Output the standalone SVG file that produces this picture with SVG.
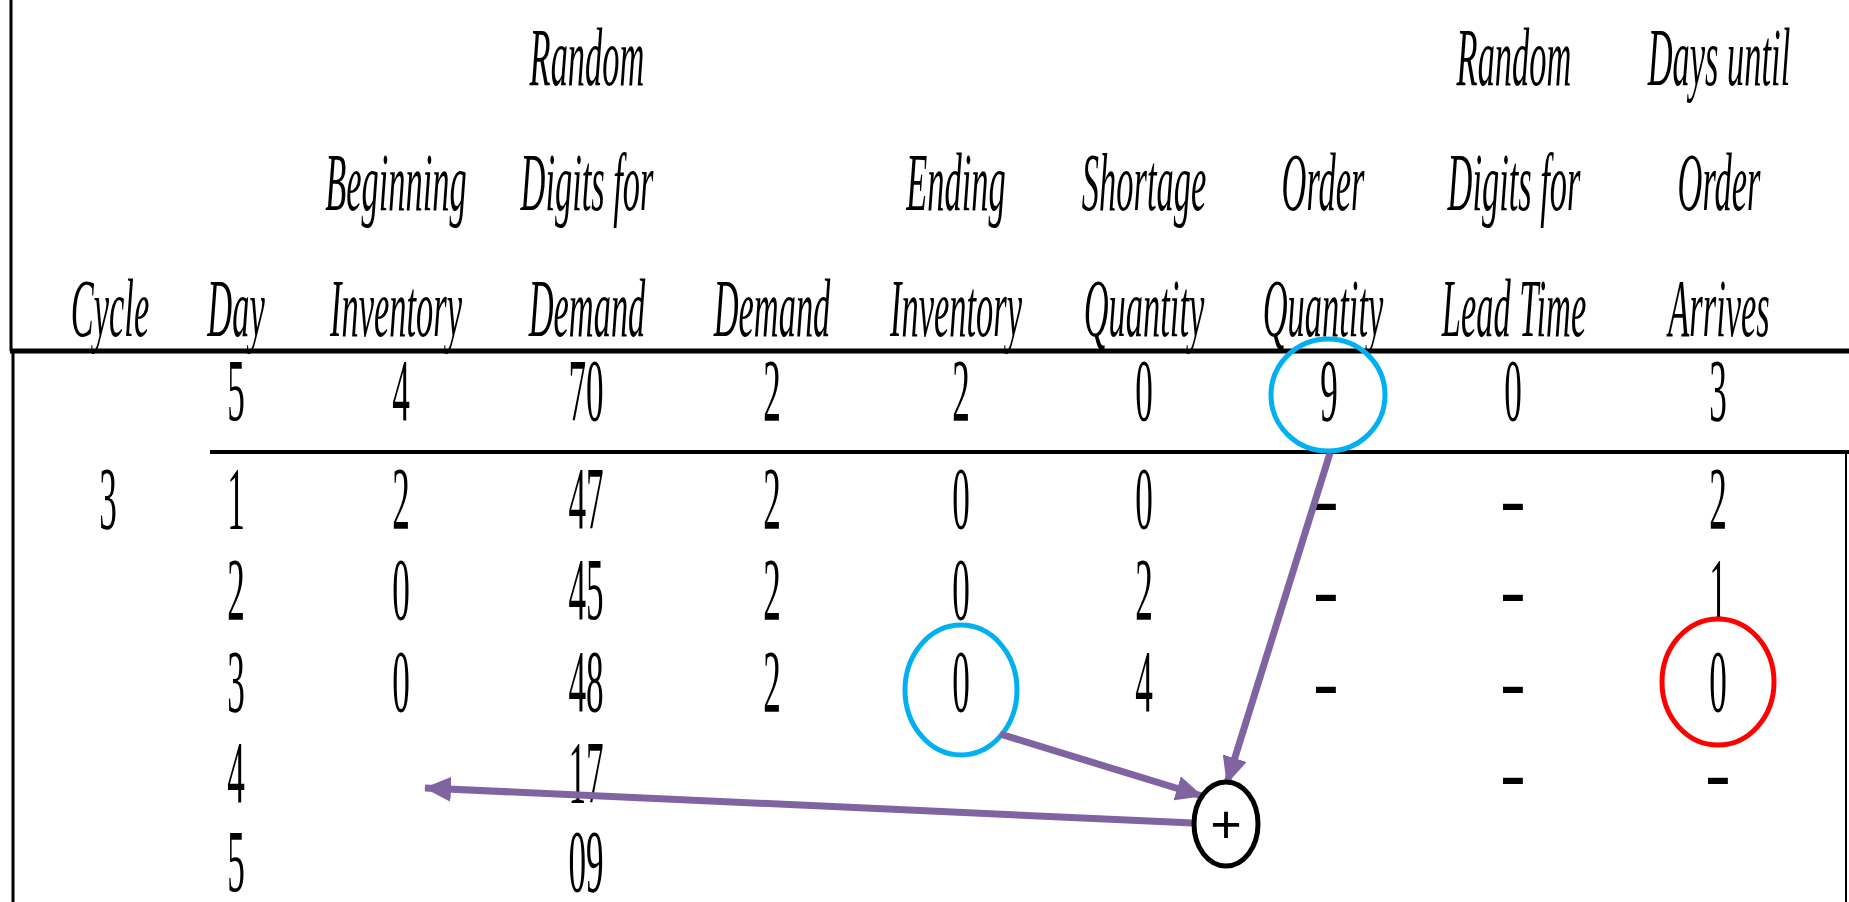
<svg xmlns="http://www.w3.org/2000/svg" width="1849" height="902" viewBox="0 0 1849 902">
<style>
.h{font-family:"Liberation Serif",serif;font-style:italic;font-size:82px;text-anchor:middle;fill:#000}
.d{font-family:"Liberation Serif",serif;font-size:88px;text-anchor:middle;fill:#000}
.rule{stroke:#000;fill:none}
.ring{fill:none;stroke-width:5}
.conn{stroke:#8064A2;stroke-width:7;fill:none;marker-end:url(#ah)}
</style>
<defs>
<marker id="ah" markerUnits="userSpaceOnUse" markerWidth="27" markerHeight="25" refX="26" refY="12.5" orient="auto">
<path d="M0,0 L27,12.5 L0,25 Z" fill="#8064A2"/>
</marker>
</defs>
<rect width="1849" height="902" fill="#fff"/>
<g id="rules">
<line class="rule" x1="11" y1="0" x2="11" y2="351" stroke-width="3"/>
<line class="rule" x1="13" y1="351" x2="13" y2="902" stroke-width="3"/>
<line class="rule" x1="10" y1="351" x2="1849" y2="351" stroke-width="5"/>
<line class="rule" x1="210" y1="452" x2="1849" y2="452" stroke-width="4"/>
<line class="rule" x1="1846" y1="452" x2="1846" y2="902" stroke-width="2"/>
</g>
<g id="header">
<text class="h" transform="translate(587 85) scale(0.42 1)">Random</text>
<text class="h" transform="translate(1514 85) scale(0.42 1)">Random</text>
<text class="h" transform="translate(1719 85) scale(0.42 1)">Days until</text>
<text class="h" transform="translate(396 210) scale(0.42 1)">Beginning</text>
<text class="h" transform="translate(587 210) scale(0.42 1)">Digits for</text>
<text class="h" transform="translate(956 210) scale(0.42 1)">Ending</text>
<text class="h" transform="translate(1144 210) scale(0.42 1)">Shortage</text>
<text class="h" transform="translate(1323 210) scale(0.42 1)">Order</text>
<text class="h" transform="translate(1514 210) scale(0.42 1)">Digits for</text>
<text class="h" transform="translate(1719 210) scale(0.42 1)">Order</text>
<text class="h" transform="translate(110 336) scale(0.42 1)">Cycle</text>
<text class="h" transform="translate(236 336) scale(0.42 1)">Day</text>
<text class="h" transform="translate(396 336) scale(0.42 1)">Inventory</text>
<text class="h" transform="translate(587 336) scale(0.42 1)">Demand</text>
<text class="h" transform="translate(772 336) scale(0.42 1)">Demand</text>
<text class="h" transform="translate(956 336) scale(0.42 1)">Inventory</text>
<text class="h" transform="translate(1144 336) scale(0.42 1)">Quantity</text>
<text class="h" transform="translate(1323 336) scale(0.42 1)">Quantity</text>
<text class="h" transform="translate(1514 336) scale(0.42 1)">Lead Time</text>
<text class="h" transform="translate(1719 336) scale(0.42 1)">Arrives</text>
</g>
<g id="row0">
<text class="d" transform="translate(236 420) scale(0.4 1)">5</text>
<text class="d" transform="translate(401 420) scale(0.4 1)">4</text>
<text class="d" transform="translate(586 420) scale(0.4 1)">70</text>
<text class="d" transform="translate(772 420) scale(0.4 1)">2</text>
<text class="d" transform="translate(961 420) scale(0.4 1)">2</text>
<text class="d" transform="translate(1144 420) scale(0.4 1)">0</text>
<text class="d" transform="translate(1329 420) scale(0.4 1)">9</text>
<text class="d" transform="translate(1513 420) scale(0.4 1)">0</text>
<text class="d" transform="translate(1718 420) scale(0.4 1)">3</text>
</g>
<g id="row1">
<text class="d" transform="translate(108 528) scale(0.4 1)">3</text>
<text class="d" transform="translate(236 528) scale(0.4 1)">1</text>
<text class="d" transform="translate(401 528) scale(0.4 1)">2</text>
<text class="d" transform="translate(586 528) scale(0.4 1)">47</text>
<text class="d" transform="translate(772 528) scale(0.4 1)">2</text>
<text class="d" transform="translate(961 528) scale(0.4 1)">0</text>
<text class="d" transform="translate(1144 528) scale(0.4 1)">0</text>
<text class="d" transform="translate(1326 528) scale(0.44 1)" font-weight="bold">–</text>
<text class="d" transform="translate(1513 528) scale(0.44 1)" font-weight="bold">–</text>
<text class="d" transform="translate(1718 528) scale(0.4 1)">2</text>
</g>
<g id="row2">
<text class="d" transform="translate(236 619) scale(0.4 1)">2</text>
<text class="d" transform="translate(401 619) scale(0.4 1)">0</text>
<text class="d" transform="translate(586 619) scale(0.4 1)">45</text>
<text class="d" transform="translate(772 619) scale(0.4 1)">2</text>
<text class="d" transform="translate(961 619) scale(0.4 1)">0</text>
<text class="d" transform="translate(1144 619) scale(0.4 1)">2</text>
<text class="d" transform="translate(1326 619) scale(0.44 1)" font-weight="bold">–</text>
<text class="d" transform="translate(1513 619) scale(0.44 1)" font-weight="bold">–</text>
<text class="d" transform="translate(1718 619) scale(0.4 1)">1</text>
</g>
<g id="row3">
<text class="d" transform="translate(236 711) scale(0.4 1)">3</text>
<text class="d" transform="translate(401 711) scale(0.4 1)">0</text>
<text class="d" transform="translate(586 711) scale(0.4 1)">48</text>
<text class="d" transform="translate(772 711) scale(0.4 1)">2</text>
<text class="d" transform="translate(961 711) scale(0.4 1)">0</text>
<text class="d" transform="translate(1144 711) scale(0.4 1)">4</text>
<text class="d" transform="translate(1326 711) scale(0.44 1)" font-weight="bold">–</text>
<text class="d" transform="translate(1513 711) scale(0.44 1)" font-weight="bold">–</text>
<text class="d" transform="translate(1718 711) scale(0.4 1)">0</text>
</g>
<g id="row4">
<text class="d" transform="translate(236 802) scale(0.4 1)">4</text>
<text class="d" transform="translate(586 802) scale(0.4 1)">17</text>
<text class="d" transform="translate(1513 802) scale(0.44 1)" font-weight="bold">–</text>
<text class="d" transform="translate(1718 802) scale(0.44 1)" font-weight="bold">–</text>
</g>
<g id="row5">
<text class="d" transform="translate(236 891) scale(0.4 1)">5</text>
<text class="d" transform="translate(586 891) scale(0.4 1)">09</text>
</g>
<g id="highlight-order">
<ellipse class="ring" cx="1328" cy="395" rx="57" ry="56" stroke="#00B0F0"/>
</g>
<g id="highlight-ending">
<ellipse class="ring" cx="961" cy="690" rx="56" ry="65" stroke="#00B0F0"/>
</g>
<g id="highlight-arrives">
<ellipse class="ring" cx="1718" cy="682" rx="56" ry="63" stroke="#FF0000"/>
</g>
<g id="connectors">
<line class="conn" x1="1330" y1="453" x2="1227" y2="783"/>
<line class="conn" x1="1000" y1="734" x2="1202" y2="796"/>
<line class="conn" x1="1193" y1="823" x2="425" y2="788"/>
</g>
<g id="plus">
<ellipse cx="1226" cy="824" rx="32" ry="42" fill="#fff" stroke="#000" stroke-width="5"/>
<text x="1226" y="843" font-family="Liberation Sans, sans-serif" font-size="54" text-anchor="middle">+</text>
</g>
</svg>
